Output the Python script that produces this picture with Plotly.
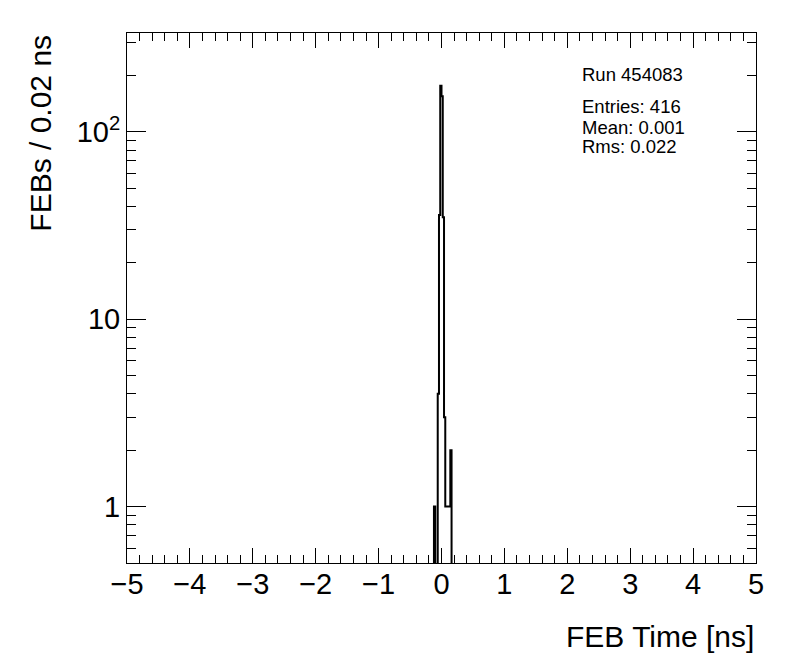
import numpy as np
import plotly.graph_objects as go

# ---- data ----
x_min, x_max, bin_width = -5.0, 5.0, 0.02
nonzero_bin_left_edges = [-0.12, -0.06, -0.04, -0.02, 0.00, 0.02, 0.04, 0.06, 0.08, 0.10, 0.12, 0.14]
nonzero_bin_counts = [1, 4, 36, 176, 155, 35, 3, 1, 1, 1, 1, 2]

x_tick_vals = [-5, -4, -3, -2, -1, 0, 1, 2, 3, 4, 5]
y_tick_vals = [1, 10, 100]
y_tick_text = ["1", "10", "10<sup>2</sup>"]
y_minor_vals = [0.6, 0.7, 0.8, 0.9, 2, 3, 4, 5, 6, 7, 8, 9,
                20, 30, 40, 50, 60, 70, 80, 90, 200, 300]
y_range = [0.5, 337]

run_label = "Run 454083"
stats_lines = ["Entries: 416", "Mean: 0.001", "Rms: 0.022"]
x_title = "FEB Time [ns]"
y_title = "FEBs / 0.02 ns"

# ---- build the full histogram ----
n_bins = int(round((x_max - x_min) / bin_width))
edges = np.linspace(x_min, x_max, n_bins + 1)
counts = np.zeros(n_bins)
for e, c in zip(nonzero_bin_left_edges, nonzero_bin_counts):
    idx = int(round((e - x_min) / bin_width))
    counts[idx] = c
plot_counts = np.where(counts > 0, counts, 1e-3)  # zero bins fall below the axis
xs = edges
ys = np.append(plot_counts, plot_counts[-1])

FONT = "Liberation Sans, Arial, Helvetica, sans-serif"

fig = go.Figure()
fig.add_trace(go.Scatter(x=xs, y=ys, mode="lines", line=dict(color="black", width=2, shape="hv"),
                         hoverinfo="skip", showlegend=False))
fig.add_trace(go.Scatter(x=[1], y=[1], yaxis="y2", mode="markers", marker=dict(opacity=0),
                         hoverinfo="skip", showlegend=False))

fig.update_layout(
    width=788, height=664,
    margin=dict(l=119, r=40, t=25, b=109),
    paper_bgcolor="white", plot_bgcolor="white",
    font=dict(family=FONT, color="black"),
    xaxis=dict(range=[x_min, x_max], tickvals=x_tick_vals, ticks="inside", ticklen=15, tickwidth=1,
               tickcolor="black", showline=True, linecolor="black", linewidth=1, mirror="ticks",
               showgrid=False, zeroline=False, tickfont=dict(size=29, family=FONT),
               ticklabelstandoff=-5,
               minor=dict(dtick=0.2, ticks="inside", ticklen=8, tickcolor="black", tickwidth=1, showgrid=False)),
    yaxis=dict(type="log", range=[np.log10(y_range[0]), np.log10(y_range[1])],
               tickvals=y_tick_vals, ticktext=y_tick_text, ticks="inside", ticklen=19, tickwidth=1,
               tickcolor="black", showline=True, linecolor="black", linewidth=1, mirror="ticks",
               showgrid=False, zeroline=False, tickfont=dict(size=29, family=FONT)),
    yaxis2=dict(type="log", range=[np.log10(y_range[0]), np.log10(y_range[1])], overlaying="y",
                side="left", tickvals=y_minor_vals, ticks="inside", ticklen=9, tickwidth=1,
                tickcolor="black", showticklabels=False, showline=False, mirror="ticks",
                showgrid=False, zeroline=False),
)

annotations = [
    dict(text=x_title, xref="paper", yref="paper", x=1.0, y=-0.139, xanchor="right", yanchor="middle",
         showarrow=False, font=dict(size=30, family=FONT)),
    dict(text=y_title, xref="paper", yref="paper", x=-0.138, y=1.0, xanchor="center", yanchor="top",
         textangle=-90, showarrow=False, font=dict(size=30, family=FONT)),
    dict(text=run_label, xref="paper", yref="paper", x=0.72, y=0.9226, xanchor="left", yanchor="middle",
         showarrow=False, font=dict(size=18.5, family=FONT)),
]
stat_y = [0.8605, 0.8226, 0.785]
for t, yy in zip(stats_lines, stat_y):
    annotations.append(dict(text=t, xref="paper", yref="paper", x=0.72, y=yy, xanchor="left",
                            yanchor="middle", showarrow=False, font=dict(size=18.5, family=FONT)))
fig.update_layout(annotations=annotations)

fig.write_html("out.html")
